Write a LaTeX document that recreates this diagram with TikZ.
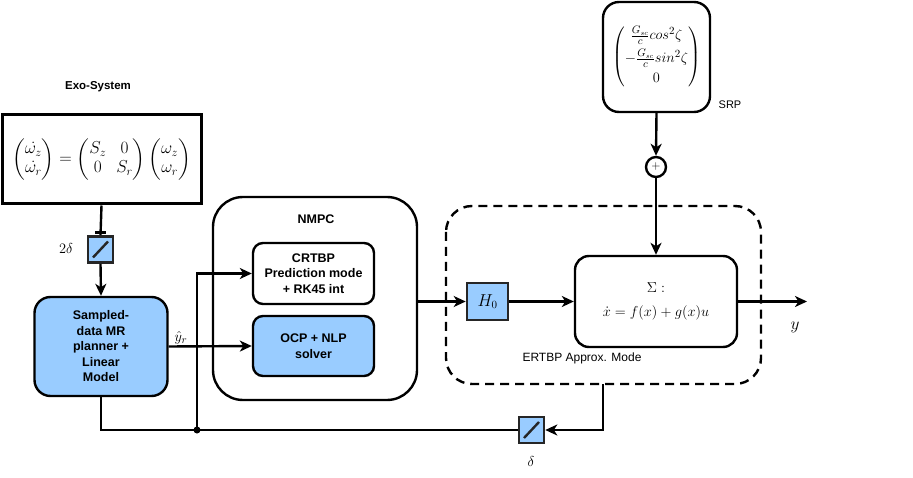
\documentclass[tikz,border=0pt]{standalone}
\usepackage{amsmath}
\usepackage{fontspec}
\newfontfamily\lsans{Liberation Sans}
\usetikzlibrary{arrows.meta}
\definecolor{lblue}{HTML}{99CCFF}
\tikzset{
  ln/.style={line width=2.4pt},
  arr/.style={ln,-{Stealth[length=12pt,width=11pt,inset=3.5pt]}},
  txt/.style={font=\lsans\bfseries\fontsize{12.5}{15.5}\selectfont},
  rbox/.style={draw,ln,rounded corners=10pt,inner sep=0pt,align=center,txt},
  sampler/.style={draw=black!85,line width=2.6pt,fill=lblue,minimum width=25pt,minimum height=26pt,inner sep=0pt,
    path picture={\draw[line width=2.4pt] ([shift={(5pt,5pt)}]path picture bounding box.south west) -- ([shift={(-5pt,-5pt)}]path picture bounding box.north east);}},
  mth/.style={font=\fontsize{14.5}{17}\selectfont},
}
\begin{document}
\begin{tikzpicture}[x=1pt,y=-1pt]
\useasboundingbox (0,0) rectangle (913,478);
% nodes
\node[draw,line width=3pt,minimum width=199pt,minimum height=89pt,inner sep=0pt,font=\fontsize{16.5}{19}\selectfont] (exo) at (101.5,159.5)
  {$\begin{pmatrix}\dot{\omega_z}\\ \dot{\omega_r}\end{pmatrix}=\begin{pmatrix}S_z & 0\\ 0 & S_r\end{pmatrix}\begin{pmatrix}\omega_z\\ \omega_r\end{pmatrix}$};
\node[font=\lsans\bfseries\fontsize{11.5}{13}\selectfont] (exolab) at (98,87) {Exo-System};
\node[sampler] (s2) at (100.5,249.5) {};
\node[font=\fontsize{15}{17}\selectfont] (s2lab) at (66,249) {$2\delta$};
\coordinate (tickl) at (95,232.5);
\coordinate (tickr) at (106,232.5);
\node[rbox,fill=lblue,rounded corners=16pt,minimum width=133pt,minimum height=99pt] (plan) at (101,346.5)
  {Sampled-\\data MR\\planner +\\Linear\\Model};
\node[draw,ln,rounded corners=30pt,minimum width=204pt,minimum height=203pt] (nmpc) at (315,298.5) {};
\node[txt] (nmpclab) at (316,219) {NMPC};
\node[rbox,minimum width=121pt,minimum height=61pt] (crtbp) at (313.5,273.5) {CRTBP\\Prediction mode\\+ RK45 int};
\node[rbox,fill=lblue,minimum width=121pt,minimum height=60pt] (ocp) at (313.5,346) {OCP + NLP\\solver};
\node[font=\fontsize{15.5}{17}\selectfont] (yr) at (181,338) {$\hat{y}_r$};
\coordinate (jn) at (197,430);
\node[draw=black!85,line width=2.6pt,fill=lblue,minimum width=41pt,minimum height=37pt,inner sep=0pt,font=\fontsize{16}{18}\selectfont] (h0) at (487.5,301.5) {$H_0$};
\node[draw,ln,rounded corners=14pt,minimum width=162pt,minimum height=91pt,align=center,mth] (sig) at (656,301.5)
  {$\Sigma:$\\[7pt]$\dot{x}=f(x)+g(x)u$};
\draw[ln,dash pattern=on 9pt off 6pt,rounded corners=26pt] (446,206) rectangle (761,384);
\node[font=\lsans\fontsize{12}{14}\selectfont] (ertlab) at (582,358) {ERTBP Approx. Mode};
\coordinate (fb) at (603,384);
\coordinate (out) at (807,301.5);
\node[font=\fontsize{16}{18}\selectfont] (ylab) at (795,327) {$y$};
\node[draw,ln,rounded corners=16pt,minimum width=107pt,minimum height=110pt,inner sep=0pt,font=\fontsize{15}{17}\selectfont] (srp) at (656.5,57)
  {$\begin{pmatrix}\frac{G_{sc}}{c}cos^2\zeta\\[4pt] -\frac{G_{sc}}{c}sin^2\zeta\\[3pt] 0\end{pmatrix}$};
\node[font=\lsans\fontsize{11}{13}\selectfont] (srplab) at (730,105) {SRP};
\node[draw,ln,circle,minimum size=20pt,inner sep=0pt,font=\fontsize{12}{13}\selectfont] (sum) at (656,167) {$+$};
\node[sampler] (s1) at (531.5,430) {};
\node[font=\fontsize{15}{17}\selectfont] (s1lab) at (531,461) {$\delta$};
% connectors
\draw[ln] (exo.south) -- (s2.north);
\draw[ln] (tickl) -- (tickr);
\draw[arr] (s2.south) -- (plan.north);
\draw[arr] (plan.east) -- (ocp.west);
\draw[arr] (jn) |- (crtbp.west);
\fill (jn) circle (3.5pt);
\draw[arr] (fb) |- (s1.east);
\draw[ln] (s1.west) -- (plan.south |- s1) -- (plan.south);
\draw[arr] (nmpc.east |- h0) -- (h0.west);
\draw[arr] (h0.east) -- (sig.west);
\draw[arr] (sig.east) -- (out);
\draw[arr] (srp.south) -- (sum.north);
\draw[arr] (sum.south) -- (sig.north);
\end{tikzpicture}
\end{document}
